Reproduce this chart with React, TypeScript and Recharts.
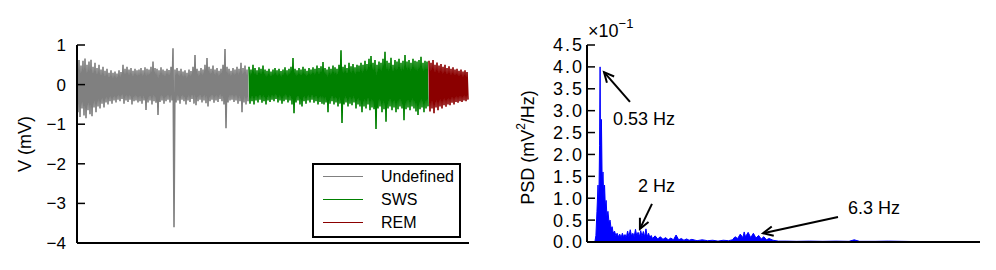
import React from "react";
import {
  Area,
  AreaChart,
  Label,
  Legend,
  Line,
  LineChart,
  ReferenceDot,
  ReferenceLine,
  XAxis,
  YAxis,
} from "recharts";

const FONT = '"Liberation Sans", Arial, Helvetica, sans-serif';

const undefinedTop = [
  0.55, 0.62, 0.48, 0.6, 0.66, 0.5, 0.58, 0.63, 0.45, 0.55,
  0.42, 0.5, 0.38, 0.45, 0.35, 0.4, 0.3, 0.36,
  0.3, 0.33, 0.28, 0.36, 0.32, 0.5, 0.4, 0.45, 0.38, 0.42, 0.35, 0.4, 0.36,
  0.38, 0.42, 0.36, 0.44, 0.4, 0.38, 0.45, 0.58, 0.42, 0.4, 0.36, 0.44, 0.38, 0.35, 0.4, 0.37,
  0.45, 0.92,
  0.38, 0.42, 0.35, 0.4, 0.33, 0.36, 0.3, 0.38, 0.34, 0.45, 0.75, 0.4, 0.35, 0.42, 0.38, 0.5,
  0.67, 0.45, 0.4, 0.48, 0.38, 0.42, 0.35, 0.4, 0.5, 0.9, 0.45, 0.4, 0.35, 0.42, 0.38, 0.45,
  0.4, 0.55, 0.42, 0.48, 0.38,
];
const undefinedBottom = [
  -0.7, -0.82, -0.6, -0.78, -0.85, -0.65, -0.75, -0.8, -0.58, -0.7,
  -0.55, -0.6, -0.48, -0.58, -0.45, -0.5, -0.42, -0.48,
  -0.4, -0.45, -0.38, -0.42, -0.36, -0.48, -0.4, -0.44, -0.38, -0.5, -0.42, -0.4, -0.45,
  -0.42, -0.48, -0.4, -0.64, -0.45, -0.4, -0.5, -0.42, -0.46, -0.77, -0.44, -0.4, -0.48, -0.42, -0.38, -0.45,
  -0.4, -3.6,
  -0.45, -0.4, -0.48, -0.38, -0.42, -0.5, -0.4, -0.44, -0.36, -0.48, -0.52, -0.42, -0.38, -0.45, -0.4, -0.47,
  -0.55, -0.42, -0.38, -0.46, -0.4, -0.44, -0.36, -0.42, -0.5, -1.1, -0.45, -0.4, -0.38, -0.44, -0.4, -0.48,
  -0.42, -0.7, -0.45, -0.5, -0.42,
];
const swsTop = [
  0.45, 0.38, 0.5, 0.42, 0.36, 0.44, 0.4, 0.48, 0.38,
  0.35, 0.4, 0.33, 0.38, 0.42, 0.36, 0.4, 0.34, 0.38, 0.44, 0.36, 0.4, 0.45,
  0.67,
  0.4, 0.36, 0.42, 0.38, 0.45, 0.4, 0.35, 0.42, 0.38, 0.44, 0.4, 0.48, 0.42, 0.46,
  0.57,
  0.42, 0.38, 0.45, 0.4, 0.48, 0.44, 0.4, 0.5,
  0.87,
  0.45, 0.5, 0.42, 0.55, 0.46, 0.52, 0.44, 0.5, 0.48,
  0.55, 0.5, 0.6, 0.52, 0.65, 0.72, 0.55, 0.62, 0.5, 0.58, 0.55, 0.65,
  0.83,
  0.6, 0.55, 0.68, 0.5, 0.62, 0.58, 0.65, 0.55, 0.6, 0.75, 0.58, 0.62, 0.55, 0.65, 0.6, 0.58,
  0.62, 0.7, 0.55, 0.6, 0.58,
];
const swsBottom = [
  -0.48, -0.42, -0.5, -0.4, -0.45, -0.38, -0.46, -0.42, -0.5,
  -0.4, -0.44, -0.38, -0.42, -0.36, -0.45, -0.4, -0.48, -0.42, -0.38, -0.45, -0.4, -0.5,
  -0.72,
  -0.45, -0.4, -0.5, -0.55, -0.42, -0.48, -0.4, -0.45, -0.38, -0.46, -0.42, -0.5, -0.44, -0.48,
  -0.5,
  -0.45, -0.7, -0.48, -0.42, -0.5, -0.45, -0.55, -0.48,
  -0.97,
  -0.5, -0.45, -0.55, -0.48, -0.52, -0.45, -0.6, -0.5, -0.55,
  -0.7, -0.55, -0.6, -0.5, -0.65, -0.58, -0.62, -1.12, -0.6, -0.55, -0.7, -0.62,
  -0.94,
  -0.6, -0.55, -0.65, -0.58, -0.7, -0.62, -0.55, -0.6, -0.9, -0.62, -0.58, -0.65, -0.55, -0.6,
  -0.68, -0.77, -0.62, -0.58, -0.7, -0.6, -0.55,
];
const remTop = [
  0.6, 0.55, 0.62, 0.5, 0.56, 0.48, 0.52, 0.45, 0.5, 0.42,
  0.46, 0.4, 0.44, 0.38, 0.4, 0.35, 0.38, 0.33, 0.36, 0.32,
];
const remBottom = [
  -0.68, -0.6, -0.72, -0.58, -0.65, -0.55, -0.6, -0.52, -0.56, -0.5,
  -0.52, -0.46, -0.5, -0.44, -0.46, -0.42, -0.44, -0.4, -0.42, -0.38,
];

const stageNames = ["Undefined", "SWS", "REM"];
const stageColors = ["#808080", "#008000", "#8b0000"];
const voltTicks = [-4, -3, -2, -1, 0, 1];

// power spectrum (x10^-1 mV^2/Hz)
const psdFreq = [
  0, 0.3, 0.34, 0.38, 0.42, 0.45, 0.48, 0.5, 0.52, 0.55, 0.58, 0.61, 0.64, 0.67, 0.7,
  0.73, 0.76, 0.8, 0.84, 0.88, 0.92, 0.96, 1.0, 1.05, 1.1, 1.15, 1.2, 1.25, 1.3, 1.35,
  1.4, 1.45, 1.5, 1.55, 1.6, 1.65, 1.7, 1.75, 1.8, 1.85, 1.9, 1.95, 2.0, 2.05, 2.1,
  2.15, 2.2, 2.25, 2.3, 2.35, 2.4, 2.45, 2.5, 2.6, 2.7, 2.8, 2.9, 3.0, 3.1, 3.2, 3.3,
  3.4, 3.5, 3.6, 3.7, 3.8, 3.9, 4.0, 4.2, 4.4, 4.6, 4.8, 5.0, 5.2, 5.4, 5.55, 5.65,
  5.75, 5.85, 5.95, 6.0, 6.05, 6.15, 6.25, 6.35, 6.45, 6.55, 6.65, 6.75, 6.85, 6.95,
  7.1, 7.3, 7.6, 8.0, 8.5, 9.0, 9.5, 10.0, 10.2, 10.4, 11.0, 11.5, 12.0, 12.5, 13.0,
  14.0, 15.0,
];
const psdValue = [
  0, 0, 0.15, 0.7, 1.3, 0.8, 2.2, 4.0, 1.6, 2.8, 1.3, 1.6, 1.0, 1.3, 0.8,
  0.95, 0.6, 0.7, 0.45, 0.5, 0.3, 0.35, 0.2, 0.25, 0.15, 0.2, 0.12, 0.18, 0.1, 0.2,
  0.12, 0.17, 0.1, 0.25, 0.12, 0.28, 0.14, 0.2, 0.12, 0.29, 0.14, 0.22, 0.12, 0.26, 0.13,
  0.24, 0.12, 0.3, 0.12, 0.2, 0.1, 0.15, 0.08, 0.14, 0.07, 0.12, 0.06, 0.1, 0.05, 0.09, 0.05,
  0.16, 0.05, 0.08, 0.04, 0.07, 0.04, 0.06, 0.03, 0.05, 0.03, 0.04, 0.02, 0.04, 0.03, 0.05, 0.12,
  0.08, 0.18, 0.1, 0.23, 0.12, 0.22, 0.1, 0.2, 0.09, 0.15, 0.07, 0.12, 0.05, 0.08,
  0.04, 0.02, 0.02, 0.015, 0.02, 0.015, 0.02, 0.015, 0.05, 0.015, 0.015, 0.02, 0.015, 0.01, 0.01,
  0.01, 0.005,
];
const psdTicks = [0, 0.5, 1, 1.5, 2, 2.5, 3, 3.5, 4, 4.5];

// annotated peaks: label, arrow tail, arrow tip, text anchor (Hz, PSD)
const peakLabels = ["0.53 Hz", "2 Hz", "6.3 Hz"];
const peakTail = [[1.64, 3.2], [2.48, 0.87], [9.58, 0.57]];
const peakTip = [[0.65, 3.88], [2.02, 0.3], [6.72, 0.2]];
const peakText = [[0.99, 2.81], [1.95, 1.28], [9.96, 0.78]];

function trace(top: number[], bottom: number[], start: number) {
  const pts: { t: number; v: number }[] = [];
  top.forEach((hi, i) => {
    pts.push({ t: start + 2 * i, v: hi });
    pts.push({ t: start + 2 * i + 1, v: bottom[i] });
  });
  return pts;
}

const swsStart = undefinedTop.length * 2;
const remStart = swsStart + swsTop.length * 2;
const traceEnd = remStart + remTop.length * 2;
const stageData = [
  trace(undefinedTop, undefinedBottom, 0),
  trace(swsTop, swsBottom, swsStart),
  trace(remTop, remBottom, remStart),
];

const psdData = psdFreq.map((f, i) => ({ f, p: psdValue[i] }));

const fmtVolt = (v: number) => (v < 0 ? `\u2212${-v}` : `${v}`);

const axisLine = { stroke: "#000", strokeWidth: 2 };
const tickLine = { stroke: "#000", strokeWidth: 1.5 };
const tickText = { fill: "#000", fontSize: 17, fontFamily: FONT };
const psdTickText = { ...tickText, fontSize: 18, letterSpacing: 2 };

// legend keeps the plotting order (recharts sorts its payload by name)
function StageLegend() {
  return (
    <div
      style={{
        border: "2px solid #000",
        background: "#fff",
        padding: "0 0 2px 0",
        fontFamily: FONT,
      }}
    >
      {stageNames.map((name, i) => (
        <div key={name} style={{ display: "flex", alignItems: "center", height: 23 }}>
          <span
            style={{
              display: "inline-block",
              width: 40,
              borderTop: `1px solid ${stageColors[i]}`,
              marginLeft: 9,
              marginRight: 18,
            }}
          />
          <span style={{ fontSize: 16, color: "#000" }}>{name}</span>
        </div>
      ))}
    </div>
  );
}

function VoltLabel({ viewBox }: any) {
  const x = viewBox.x + 25;
  const y = viewBox.y + viewBox.height / 2;
  return (
    <text
      x={x}
      y={y}
      transform={`rotate(-90 ${x} ${y})`}
      textAnchor="middle"
      dominantBaseline="central"
      fontSize={18}
      fontFamily={FONT}
      fill="#000"
    >
      V (mV)
    </text>
  );
}

function PsdLabel({ viewBox }: any) {
  const x = viewBox.x + 28;
  const y = viewBox.y + viewBox.height / 2 + 4;
  return (
    <text
      x={x}
      y={y}
      transform={`rotate(-90 ${x} ${y})`}
      textAnchor="middle"
      dominantBaseline="central"
      fontSize={18}
      fontFamily={FONT}
      fill="#000"
    >
      PSD (mV
      <tspan dy={-7} fontSize={12}>2</tspan>
      <tspan dy={7}>/Hz)</tspan>
    </text>
  );
}

function Arrow(props: any) {
  const { x1, y1, x2, y2 } = props;
  const a = Math.atan2(y2 - y1, x2 - x1);
  const len = 11;
  const spread = 0.45;
  const hx1 = x2 - len * Math.cos(a - spread);
  const hy1 = y2 - len * Math.sin(a - spread);
  const hx2 = x2 - len * Math.cos(a + spread);
  const hy2 = y2 - len * Math.sin(a + spread);
  return (
    <g>
      <line x1={x1} y1={y1} x2={x2} y2={y2} stroke="#000" strokeWidth={2} />
      <polyline
        points={`${hx1},${hy1} ${x2},${y2} ${hx2},${hy2}`}
        fill="none"
        stroke="#000"
        strokeWidth={2}
      />
    </g>
  );
}

function PeakText(label: string) {
  return (props: any) => (
    <text
      x={props.cx}
      y={props.cy}
      dominantBaseline="central"
      fontSize={18}
      fontFamily={FONT}
      fill="#000"
    >
      {label}
    </text>
  );
}

function OffsetText(props: any) {
  return (
    <text x={props.cx + 1} y={props.cy - 8} fontSize={18} fontFamily={FONT} fill="#000">
      {"\u00d710"}
      <tspan dy={-9} fontSize={13}>
        {"\u22121"}
      </tspan>
    </text>
  );
}

export default function App() {
  return (
    <div
      style={{
        position: "absolute",
        left: 0,
        top: 0,
        width: 996,
        height: 270,
        background: "#fff",
        fontFamily: FONT,
      }}
    >
      <div style={{ position: "absolute", left: 0, top: 0 }}>
        <LineChart width={480} height={270} margin={{ top: 45, right: 11, bottom: 0, left: 0 }}>
          <XAxis
            type="number"
            dataKey="t"
            domain={[0, traceEnd]}
            tick={false}
            tickLine={false}
            height={27}
            axisLine={axisLine}
          />
          <YAxis
            type="number"
            domain={[-4, 1]}
            ticks={voltTicks}
            interval={0}
            tickFormatter={fmtVolt}
            width={77}
            tickSize={-8}
            tickMargin={19}
            tick={tickText}
            tickLine={tickLine}
            axisLine={axisLine}
          >
            <Label content={<VoltLabel />} />
          </YAxis>
          {stageData.map((d, i) => (
            <Line
              key={stageNames[i]}
              data={d}
              dataKey="v"
              name={stageNames[i]}
              type="linear"
              stroke={stageColors[i]}
              strokeWidth={1.6}
              dot={false}
              activeDot={false}
              isAnimationActive={false}
            />
          ))}
          <Legend
            layout="vertical"
            align="center"
            verticalAlign="middle"
            content={<StageLegend />}
            wrapperStyle={{ left: 312, top: 163, width: 149, height: 74 }}
          />
        </LineChart>
      </div>
      <div style={{ position: "absolute", left: 500, top: 0 }}>
        <AreaChart
          width={496}
          height={270}
          data={psdData}
          margin={{ top: 45, right: 16, bottom: 0, left: 0 }}
        >
          <XAxis
            type="number"
            dataKey="f"
            domain={[0, 15]}
            tick={false}
            tickLine={false}
            height={28}
            axisLine={axisLine}
          />
          <YAxis
            type="number"
            domain={[0, 4.5]}
            ticks={psdTicks}
            interval={0}
            tickFormatter={(v: number) => v.toFixed(1)}
            width={87}
            tickSize={-8}
            tickMargin={11}
            tick={psdTickText}
            tickLine={tickLine}
            axisLine={axisLine}
          >
            <Label content={<PsdLabel />} />
          </YAxis>
          <Area
            type="linear"
            dataKey="p"
            stroke="#0000ff"
            strokeWidth={1}
            fill="#0000ff"
            fillOpacity={1}
            dot={false}
            activeDot={false}
            isAnimationActive={false}
          />
          <ReferenceDot x={0} y={4.5} r={0} ifOverflow="visible" shape={OffsetText} />
          {peakLabels.map((label, i) => (
            <ReferenceLine
              key={label}
              segment={[
                { x: peakTail[i][0], y: peakTail[i][1] },
                { x: peakTip[i][0], y: peakTip[i][1] },
              ]}
              ifOverflow="visible"
              shape={Arrow}
            />
          ))}
          {peakLabels.map((label, i) => (
            <ReferenceDot
              key={label + "-text"}
              x={peakText[i][0]}
              y={peakText[i][1]}
              r={0}
              ifOverflow="visible"
              shape={PeakText(label)}
            />
          ))}
        </AreaChart>
      </div>
    </div>
  );
}
